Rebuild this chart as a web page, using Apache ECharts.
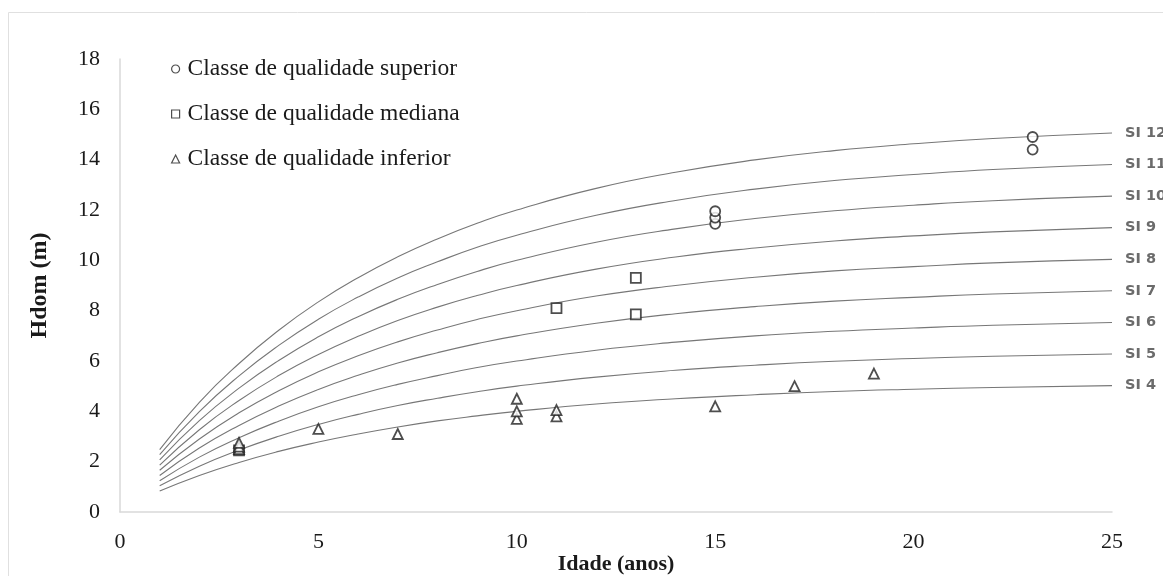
<!DOCTYPE html>
<html>
<head>
<meta charset="utf-8">
<script src="https://cdn.jsdelivr.net/npm/echarts@6/dist/echarts.min.js"></script>
<style>
html,body{margin:0;padding:0;background:#fff;}
#c{width:1163px;height:576px;}
</style>
</head>
<body>
<div id="c"></div>
<script>
// Ages at which the site-index curves were read
var ages = [1,2,3,4,5,6,7,8,9,10,12,14,16,18,20,22,25];
// Site-index curves (Hdom, m)
var si4  = [0.83,1.45,1.97,2.41,2.78,3.10,3.38,3.62,3.82,4.00,4.29,4.50,4.66,4.79,4.88,4.95,5.02];
var si5  = [1.04,1.82,2.46,3.01,3.48,3.88,4.23,4.52,4.78,5.00,5.36,5.63,5.83,5.99,6.10,6.19,6.28];
var si6  = [1.24,2.18,2.95,3.61,4.18,4.66,5.07,5.42,5.74,6.00,6.43,6.75,7.00,7.18,7.31,7.42,7.53];
var si7  = [1.45,2.54,3.44,4.21,4.87,5.43,5.92,6.33,6.69,7.00,7.50,7.88,8.16,8.38,8.53,8.66,8.79];
var si8  = [1.66,2.90,3.94,4.82,5.57,6.21,6.76,7.23,7.65,8.00,8.58,9.00,9.33,9.58,9.75,9.90,10.04];
var si9  = [1.86,3.27,4.43,5.42,6.26,6.98,7.61,8.14,8.60,9.00,9.65,10.13,10.49,10.77,10.97,11.13,11.30];
var si10 = [2.07,3.63,4.92,6.02,6.96,7.76,8.45,9.04,9.56,10.00,10.72,11.25,11.66,11.97,12.19,12.37,12.55];
var si11 = [2.28,3.99,5.41,6.62,7.66,8.54,9.30,9.94,10.52,11.00,11.79,12.38,12.83,13.17,13.41,13.61,13.81];
var si12 = [2.48,4.36,5.90,7.22,8.35,9.31,10.14,10.85,11.47,12.00,12.86,13.50,13.99,14.36,14.63,14.84,15.06];
var curveNames = ['SI 4','SI 5','SI 6','SI 7','SI 8','SI 9','SI 10','SI 11','SI 12'];
var curves = [si4,si5,si6,si7,si8,si9,si10,si11,si12];

// Observed plots: [idade, Hdom]
var superior = [[15,11.45],[15,11.7],[15,11.95],[23,14.4],[23,14.9]];
var mediana  = [[3,2.45],[11,8.1],[13,9.3],[13,7.85]];
var inferior = [[3,2.5],[3,2.6],[3,2.75],[5,3.3],[7,3.1],[10,3.7],[10,4.0],[10,4.5],[11,3.8],[11,4.05],[15,4.2],[17,5.0],[19,5.5]];

var classNames = ['Classe de qualidade superior','Classe de qualidade mediana','Classe de qualidade inferior'];
var xTicks = [0,5,10,15,20,25];
var yTicks = [0,2,4,6,8,10,12,14,16,18];

var serif = '"Liberation Serif","Times New Roman",serif';
var series = [];
curves.forEach(function(vals, i){
  series.push({
    name: curveNames[i],
    type: 'line',
    data: ages.map(function(a, j){ return [a, vals[j]]; }),
    showSymbol: false,
    smooth: 0.5,
    silent: true,
    z: 1,
    lineStyle: {color: '#777777', width: 1.1},
    endLabel: {show: true, formatter: '{a}', distance: 13, color: '#6b6b6b',
      fontSize: 14.5, fontWeight: 'bold', fontFamily: '"DejaVu Sans",sans-serif'}
  });
});
var symStyle = {color: '#fff', borderColor: '#222', borderWidth: 1.8};
series.push({name: classNames[0], type: 'scatter', data: superior, symbol: 'circle', symbolSize: 10, itemStyle: symStyle, z: 5});
series.push({name: classNames[1], type: 'scatter', data: mediana, symbol: 'rect', symbolSize: 10, itemStyle: symStyle, z: 5});
series.push({name: classNames[2], type: 'scatter', data: inferior, symbol: 'triangle', symbolSize: 10, itemStyle: symStyle, z: 5});

var chart = echarts.init(document.getElementById('c'), null, {renderer: 'canvas'});
chart.setOption({
  animation: false,
  backgroundColor: '#fff',
  grid: {left: 120, right: 51, top: 59, bottom: 64, containLabel: false, outerBoundsMode: 'none'},
  graphic: [{type: 'rect', shape: {x: 8.5, y: 12.5, width: 1200, height: 700},
    style: {fill: 'none', stroke: '#e0e0e0', lineWidth: 1}, silent: true}],
  legend: {
    data: classNames.map(function(n, i){ return {name: n, icon: ['circle','rect','triangle'][i]}; }),
    orient: 'vertical', left: 166, top: 52, itemGap: 21,
    itemWidth: 8, itemHeight: 8,
    textStyle: {fontFamily: serif, fontSize: 23.5, color: '#1a1a1a', padding: [0,0,0,3]},
    itemStyle: {color: '#fff', borderColor: '#222', borderWidth: 1.2}
  },
  xAxis: {
    type: 'value', min: 0, max: 25, interval: 5,
    name: 'Idade (anos)', nameLocation: 'middle', nameGap: 41, nameMoveOverlap: false,
    nameTextStyle: {fontFamily: serif, fontSize: 22, fontWeight: 'bold', color: '#1a1a1a'},
    axisLine: {show: true, lineStyle: {color: '#d9d9d9', width: 1.5}},
    axisTick: {show: false}, splitLine: {show: false},
    axisLabel: {fontFamily: serif, fontSize: 22, color: '#1a1a1a', margin: 19,
      formatter: function(v){ return xTicks.indexOf(v) >= 0 ? String(v) : ''; }}
  },
  yAxis: {
    type: 'value', min: 0, max: 18, interval: 2,
    name: 'Hdom (m)', nameLocation: 'middle', nameGap: 68, nameRotate: 90, nameMoveOverlap: false,
    nameTextStyle: {fontFamily: serif, fontSize: 24, fontWeight: 'bold', color: '#1a1a1a'},
    axisLine: {show: true, lineStyle: {color: '#d9d9d9', width: 1.5}},
    axisTick: {show: false}, splitLine: {show: false},
    axisLabel: {fontFamily: serif, fontSize: 22, color: '#1a1a1a', margin: 20,
      formatter: function(v){ return yTicks.indexOf(v) >= 0 ? String(v) : ''; }}
  },
  series: series
});
</script>
</body>
</html>
